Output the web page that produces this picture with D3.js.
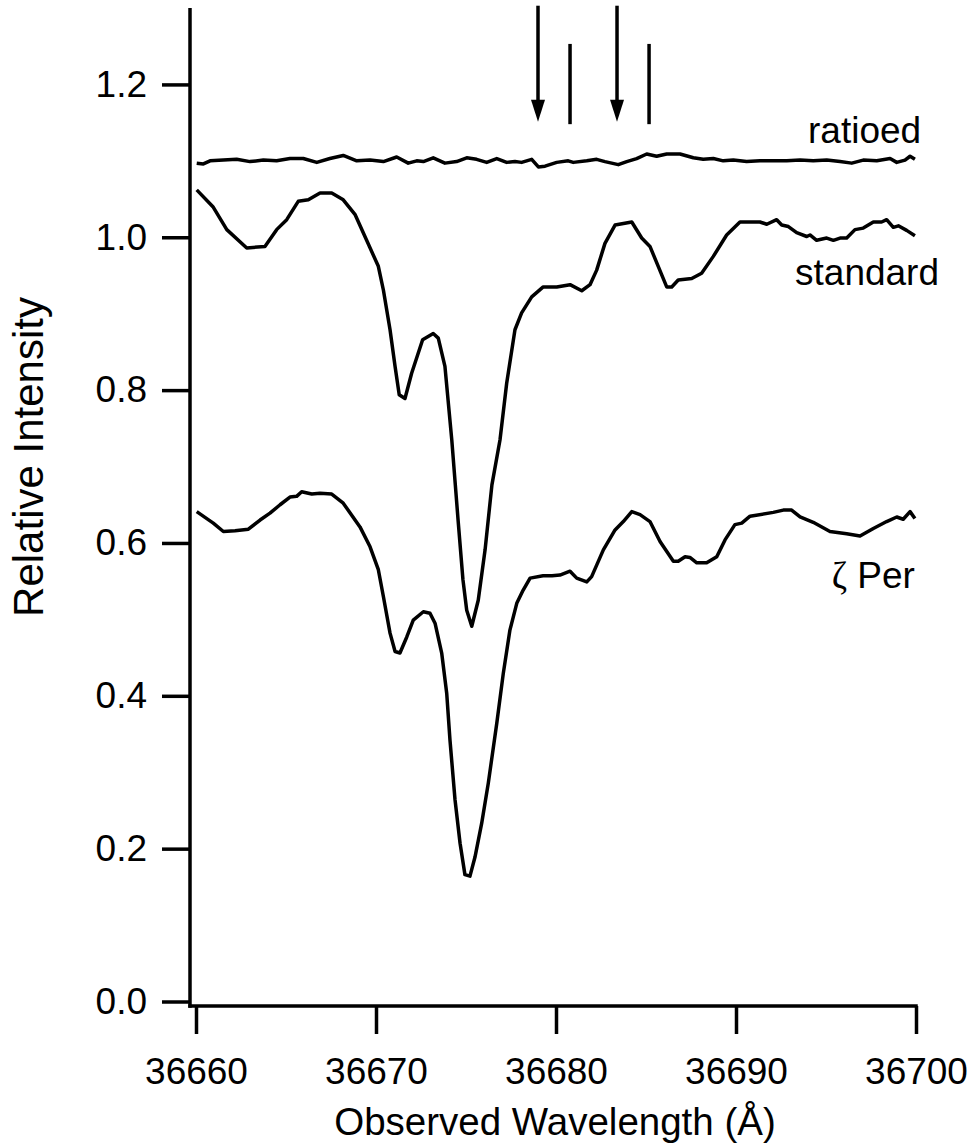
<!DOCTYPE html>
<html>
<head>
<meta charset="utf-8">
<script src="https://cdn.jsdelivr.net/npm/d3@7"></script>
<style>
  body { margin: 0; background: #fff; }
  svg text { font-family: "Liberation Sans", Arial, sans-serif; fill: #000; }
</style>
</head>
<body>
<div id="chart"></div>
<script>
// spectra: [wavelength (A), relative intensity]
var ratioed = [
  [36660.04,1.097],[36660.41,1.096],[36660.78,1.100],[36661.52,1.101],[36662.26,1.102],
  [36663.00,1.099],[36663.74,1.101],[36664.48,1.100],[36665.22,1.103],[36665.96,1.103],
  [36666.71,1.098],[36667.44,1.103],[36668.18,1.107],[36668.93,1.100],[36669.67,1.101],
  [36670.41,1.099],[36671.15,1.105],[36671.79,1.097],[36672.26,1.100],[36672.63,1.099],
  [36673.18,1.104],[36673.83,1.097],[36674.48,1.099],[36675.04,1.104],[36675.59,1.102],
  [36676.15,1.098],[36676.71,1.103],[36677.26,1.098],[36677.72,1.099],[36678.09,1.098],
  [36678.65,1.102],[36679.02,1.092],[36679.39,1.093],[36680.04,1.098],[36680.68,1.100],
  [36680.96,1.098],[36681.71,1.100],[36682.26,1.102],[36682.72,1.099],[36683.46,1.095],
  [36683.93,1.099],[36684.48,1.103],[36685.04,1.109],[36685.59,1.106],[36686.15,1.109],
  [36686.89,1.109],[36687.63,1.104],[36688.18,1.102],[36688.74,1.103],[36689.29,1.100],
  [36689.85,1.101],[36690.59,1.099],[36691.33,1.100],[36692.07,1.100],[36692.82,1.100],
  [36693.56,1.101],[36694.29,1.100],[36695.04,1.101],[36695.78,1.099],[36696.43,1.097],
  [36697.07,1.101],[36697.82,1.100],[36698.56,1.103],[36698.93,1.098],[36699.39,1.101],
  [36699.67,1.106],[36699.94,1.102]
]

var standard = [
  [36660.04,1.062],[36660.94,1.040],[36661.71,1.010],[36662.82,0.986],[36663.83,0.988],
  [36664.48,1.010],[36665.04,1.023],[36665.68,1.047],[36666.24,1.049],[36666.89,1.058],
  [36667.54,1.058],[36668.18,1.049],[36668.83,1.030],[36669.48,0.996],[36670.13,0.962],
  [36670.41,0.931],[36670.78,0.879],[36671.06,0.831],[36671.29,0.794],[36671.61,0.789],
  [36671.98,0.822],[36672.59,0.866],[36673.18,0.874],[36673.46,0.868],[36673.83,0.831],
  [36674.21,0.735],[36674.56,0.630],[36674.83,0.552],[36675.04,0.512],[36675.32,0.491],
  [36675.68,0.525],[36676.06,0.591],[36676.44,0.676],[36676.89,0.735],[36677.26,0.809],
  [36677.72,0.879],[36678.09,0.901],[36678.65,0.922],[36679.29,0.935],[36680.04,0.935],
  [36680.78,0.938],[36681.43,0.930],[36681.89,0.938],[36682.26,0.957],[36682.72,0.992],
  [36683.28,1.016],[36684.21,1.020],[36684.76,0.999],[36685.22,0.988],[36685.68,0.962],
  [36686.15,0.935],[36686.43,0.935],[36686.79,0.944],[36687.54,0.946],[36688.09,0.953],
  [36688.74,0.975],[36689.48,1.003],[36690.22,1.020],[36690.96,1.020],[36691.33,1.020],
  [36691.71,1.017],[36692.26,1.023],[36692.54,1.016],[36692.91,1.014],[36693.37,1.006],
  [36693.93,1.001],[36694.11,1.003],[36694.48,0.996],[36695.04,0.999],[36695.41,0.996],
  [36695.78,0.999],[36696.15,0.999],[36696.61,1.010],[36697.07,1.012],[36697.63,1.020],
  [36698.09,1.020],[36698.37,1.023],[36698.74,1.013],[36699.02,1.015],[36699.48,1.009],
  [36699.94,1.002]
]

var zetaPer = [
  [36660.04,0.641],[36660.96,0.626],[36661.52,0.615],[36662.17,0.616],[36662.91,0.618],
  [36663.56,0.630],[36664.11,0.639],[36664.67,0.650],[36665.22,0.660],[36665.59,0.661],
  [36665.87,0.667],[36666.43,0.664],[36666.89,0.665],[36667.54,0.664],[36668.18,0.652],
  [36669.11,0.621],[36669.67,0.595],[36670.13,0.565],[36670.41,0.530],[36670.78,0.482],
  [36671.06,0.458],[36671.33,0.456],[36671.71,0.477],[36672.07,0.499],[36672.63,0.510],
  [36673.00,0.508],[36673.28,0.495],[36673.65,0.456],[36673.93,0.403],[36674.11,0.342],
  [36674.39,0.264],[36674.67,0.207],[36674.94,0.166],[36675.22,0.164],[36675.50,0.189],
  [36675.87,0.233],[36676.24,0.286],[36676.71,0.364],[36677.07,0.429],[36677.44,0.486],
  [36677.82,0.521],[36678.17,0.538],[36678.56,0.554],[36679.28,0.557],[36679.78,0.557],
  [36680.22,0.558],[36680.78,0.563],[36681.15,0.554],[36681.71,0.549],[36681.98,0.556],
  [36682.63,0.591],[36683.28,0.617],[36683.74,0.628],[36684.21,0.641],[36684.67,0.637],
  [36685.22,0.628],[36685.78,0.602],[36686.52,0.576],[36686.79,0.576],[36687.17,0.582],
  [36687.44,0.581],[36687.82,0.574],[36688.37,0.574],[36688.93,0.582],[36689.39,0.604],
  [36689.94,0.624],[36690.32,0.626],[36690.78,0.635],[36692.07,0.640],[36692.63,0.643],
  [36693.09,0.643],[36693.56,0.634],[36694.29,0.627],[36695.22,0.615],[36696.15,0.612],
  [36696.89,0.609],[36697.63,0.619],[36698.37,0.628],[36698.93,0.634],[36699.29,0.631],
  [36699.67,0.641],[36699.94,0.632]
]

// line identifications drawn above the spectra
var arrowX = [36679.0, 36683.39]
var arrowTop = 1.303, arrowTip = 1.151
var barX = [36680.78, 36685.17]
var barTop = 1.253, barBottom = 1.148

var xTicks = [36660, 36670, 36680, 36690, 36700]
var yTicks = [0, 0.2, 0.4, 0.6, 0.8, 1.0, 1.2]

// trace labels [text, wavelength, intensity]
var labels = [
  ['ratioed', 36694.0, 1.123],
  ['standard', 36693.28, 0.938],
  ['Per', 36695.32, 0.541]
]

var W = 974, H = 1148
var fs = 37
var lw = 3.5

var svg = d3.select('#chart').append('svg')
  .attr('width', W).attr('height', H)

var x = d3.scaleLinear().domain([36660, 36700]).range([196, 916])
var y = d3.scaleLinear().domain([0, 1.3]).range([1001.5, 8])

var axisX = 190        // free y axis, pulled a little left of the first x tick
var axisY = y(0) + 4.5 // free x axis, a little below zero

//y axis
var gy = svg.append('g')
  .attr('transform', 'translate(' + axisX + ',0)')
  .call(d3.axisLeft(y).tickValues(yTicks).tickSize(28).tickSizeOuter(0)
    .tickPadding(15).tickFormat(d3.format('.1f')))
gy.select('.domain').remove()
gy.selectAll('line').attr('stroke', '#000').attr('stroke-width', lw)
gy.selectAll('text').style('font-size', fs + 'px')

//x axis
var gx = svg.append('g')
  .attr('transform', 'translate(0,' + axisY + ')')
  .call(d3.axisBottom(x).tickValues(xTicks).tickSize(28).tickSizeOuter(0)
    .tickPadding(24).tickFormat(d3.format('d')))
gx.select('.domain').remove()
gx.selectAll('line').attr('stroke', '#000').attr('stroke-width', lw)
gx.selectAll('text').style('font-size', fs + 'px')

svg.append('line')
  .attr('x1', axisX).attr('y1', y(1.3))
  .attr('x2', axisX).attr('y2', axisY + lw / 2)
  .attr('stroke', '#000').attr('stroke-width', lw)
svg.append('line')
  .attr('x1', axisX - lw / 2).attr('y1', axisY)
  .attr('x2', x(36700) + lw / 2).attr('y2', axisY)
  .attr('stroke', '#000').attr('stroke-width', lw)

// axis titles
svg.append('text')
  .attr('x', 555).attr('y', 1135)
  .attr('text-anchor', 'middle')
  .style('font-size', '38.5px')
  .text('Observed Wavelength (Å)')
svg.append('text')
  .attr('transform', 'translate(43,457) rotate(-90)')
  .attr('text-anchor', 'middle')
  .style('font-size', '42px')
  .text('Relative Intensity')

// spectra
var line = d3.line()
  .x(function(d){ return x(d[0]) })
  .y(function(d){ return y(d[1]) })

;[ratioed, standard, zetaPer].forEach(function(s){
  svg.append('path')
    .datum(s)
    .attr('d', line)
    .attr('fill', 'none')
    .attr('stroke', '#000')
    .attr('stroke-width', lw)
    .attr('stroke-linejoin', 'round')
})

// arrows
arrowX.forEach(function(a){
  var tip = y(arrowTip)
  svg.append('line')
    .attr('x1', x(a)).attr('y1', y(arrowTop))
    .attr('x2', x(a)).attr('y2', tip - 20)
    .attr('stroke', '#000').attr('stroke-width', lw)
  svg.append('path')
    .attr('d', 'M' + (x(a) - 7) + ',' + (tip - 22) + 'L' + (x(a) + 7) + ',' + (tip - 22) +
      'L' + x(a) + ',' + tip + 'Z')
    .attr('fill', '#000')
})
barX.forEach(function(b){
  svg.append('line')
    .attr('x1', x(b)).attr('y1', y(barTop))
    .attr('x2', x(b)).attr('y2', y(barBottom))
    .attr('stroke', '#000').attr('stroke-width', lw)
})

// labels
labels.forEach(function(l){
  var t = svg.append('text')
    .attr('x', x(l[1])).attr('y', y(l[2]))
    .style('font-size', fs + 'px')
  if(l[0] == 'Per'){
    t.append('tspan')
      .style('font-family', '"Liberation Serif", "DejaVu Serif", serif')
      .text('ζ')
    t.append('tspan').text(' Per')
  }else{
    t.text(l[0])
  }
})
</script>
</body>
</html>
